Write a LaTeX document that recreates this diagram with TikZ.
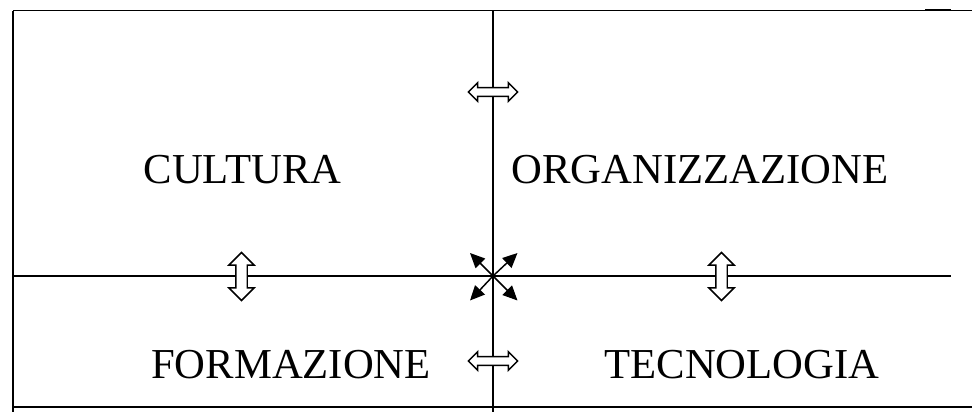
\documentclass[tikz,border=0pt]{standalone}
\usepackage{fontspec}
\setmainfont{Liberation Serif}
\usetikzlibrary{shapes.arrows,arrows.meta}
\begin{document}
\begin{tikzpicture}[x=0.75pt,y=-0.75pt,
  frameline/.style={line width=1.1pt},
  gridline/.style={line width=0.9pt},
  hollowarrow/.style={double arrow, draw, fill=white, line width=1.1pt,
    inner xsep=0pt},
  flatarrow/.style={hollowarrow, inner ysep=2.8pt, double arrow head extend=3.6pt,
    minimum height=37pt},
  uparrow/.style={hollowarrow, rotate=90, inner ysep=3.75pt, double arrow head extend=5.2pt,
    minimum height=36pt},
  bigtext/.style={font=\fontsize{32pt}{36pt}\selectfont, anchor=base, inner sep=0pt},
  diag/.style={line width=1.1pt, -{Triangle[length=11pt,width=10pt]}}]
\useasboundingbox (0,0) rectangle (972,412);
% frame and cross lines
\coordinate (tl) at (13,10.5);
\coordinate (tr) at (972,10.5);
\coordinate (bl) at (13,412);
\coordinate (bbl) at (13,407);
\coordinate (bbr) at (972,407);
\coordinate (ml) at (13,276);
\coordinate (mr) at (951,276);
\coordinate (vt) at (493,10.5);
\coordinate (vb) at (493,412);
\coordinate (c) at (493,276);
\draw[frameline] (tl) -- (tr);
\draw[frameline] (tl) -- (bl);
\draw[frameline] (bbl) -- (bbr);
\draw[frameline] (925,9.5) -- (951,9.5);
\draw[gridline] (ml) -- (mr);
\draw[gridline] (vt) -- (vb);
% labels
\node[bigtext] (cultura) at (242.5,183) {CULTURA};
\node[bigtext] (org) at (700,183) {ORGANIZZAZIONE};
\node[bigtext] (form) at (291,378) {FORMAZIONE};
\node[bigtext] (tec) at (742,378) {TECNOLOGIA};
% hollow double arrows
\node[flatarrow] (atop) at (493,92) {};
\node[flatarrow] (abot) at (493,361) {};
\node[uparrow] (aleft) at (241.5,276.5) {};
\node[uparrow] (aright) at (721.5,276.5) {};
% four-way arrows
\coordinate (ul) at (470,253);
\coordinate (ur) at (517.5,253);
\coordinate (ll) at (470,300.5);
\coordinate (lr) at (517.5,300.5);
\draw[diag] (c) -- (ul);
\draw[diag] (c) -- (ur);
\draw[diag] (c) -- (ll);
\draw[diag] (c) -- (lr);
\end{tikzpicture}
\end{document}
